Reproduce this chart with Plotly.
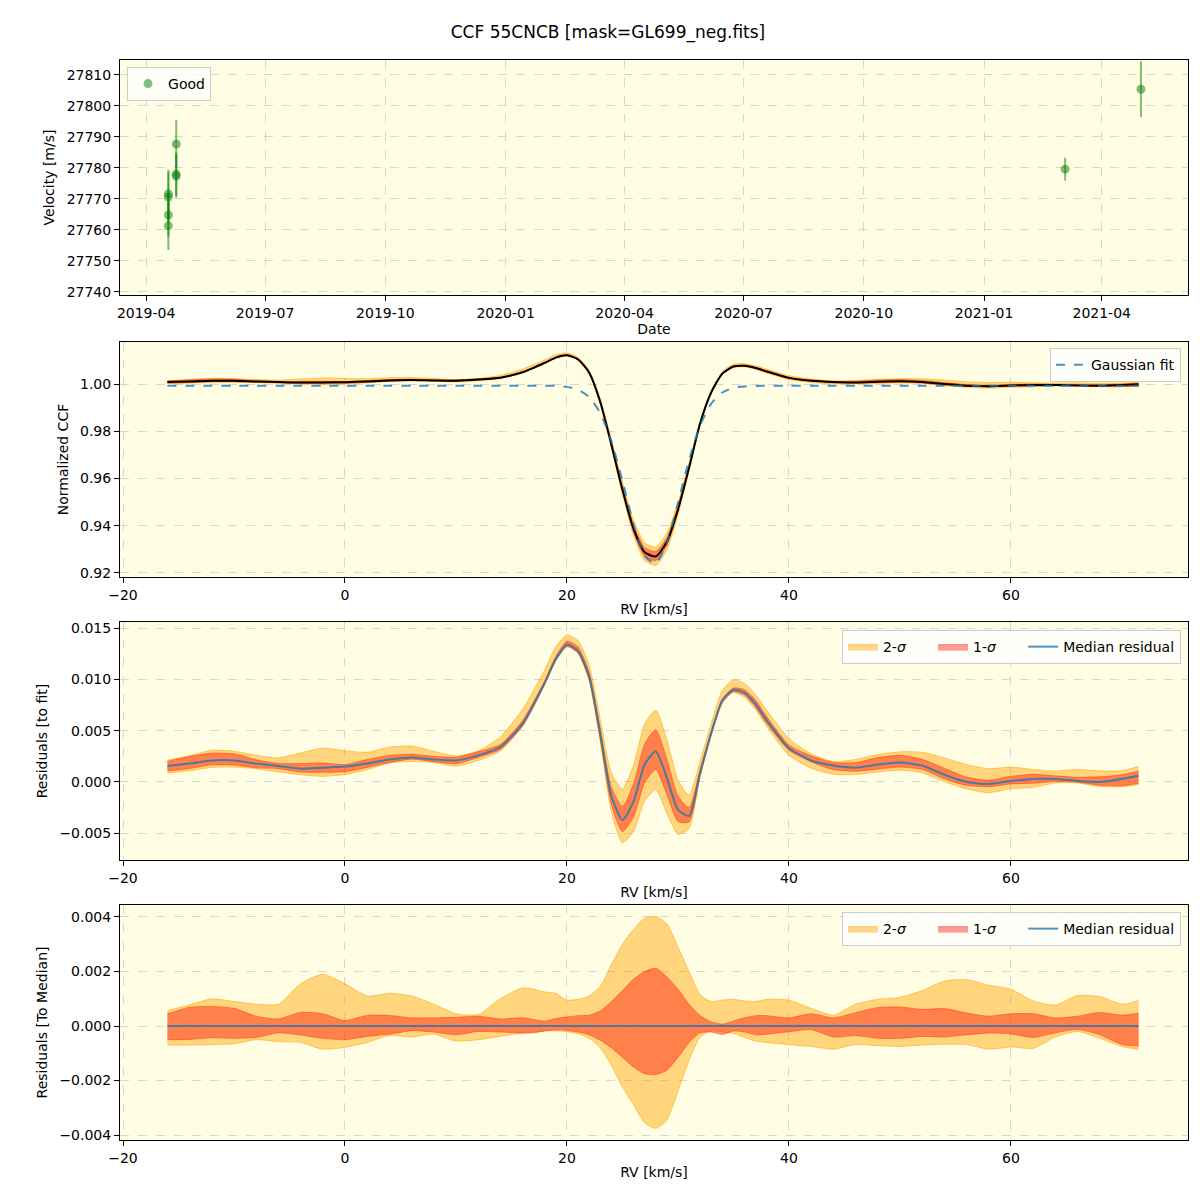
import plotly.graph_objects as go

# top panel: radial velocities ("Good" points)
obs_dates = ["2019-04-18", "2019-04-18", "2019-04-18", "2019-04-18",
             "2019-04-24", "2019-04-24", "2019-04-24",
             "2021-03-04", "2021-05-01"]
obs_rv = [27761.3, 27764.8, 27770.6, 27771.6, 27787.7, 27778.0, 27777.4, 27779.6, 27805.4]
obs_err = [7.8, 7.0, 8.0, 7.8, 7.8, 7.0, 7.0, 3.7, 9.0]

# CCF grid [km/s]
rv = [-16, -14, -12, -10, -8, -6, -4, -2, 0, 2, 4, 6, 8, 10, 12, 14, 16,
      17, 18, 19, 20, 21, 22, 23, 24, 25, 26, 27, 28, 29, 30, 31, 32, 33, 34, 35, 36, 37, 38,
      40, 42, 44, 46, 48, 50, 52, 54, 56, 58, 60, 62, 64, 66, 68, 70, 71.5]

gauss_fit = [0.9993, 0.9993, 0.9993, 0.9993, 0.9993, 0.9993, 0.9993, 0.9993, 0.9993,
             0.9993, 0.9993, 0.9993, 0.9993, 0.9993, 0.9993, 0.9993, 0.9993,
             0.9993, 0.9993, 0.9992, 0.9988, 0.9976, 0.9945, 0.9877, 0.9758, 0.9590,
             0.9406, 0.9271, 0.9240, 0.9328, 0.9496, 0.9679, 0.9825, 0.9917, 0.9964,
             0.9984, 0.9990, 0.9992, 0.9993,
             0.9993, 0.9993, 0.9993, 0.9993, 0.9993, 0.9993, 0.9993, 0.9993, 0.9993,
             0.9993, 0.9993, 0.9993, 0.9993, 0.9993, 0.9993, 0.9993, 0.9993]

median_res = [0.00156, 0.0018, 0.0021, 0.0021, 0.0018, 0.00155, 0.0013, 0.0014, 0.0015,
              0.0018, 0.0022, 0.0024, 0.0022, 0.0021, 0.0026, 0.0034, 0.0057,
              0.0076, 0.0097, 0.0120, 0.0134, 0.0128, 0.0103, 0.0047, -0.0014, -0.0037,
              -0.0019, 0.0017, 0.0030, 0.0004, -0.0027, -0.0033, 0.0009, 0.0048, 0.0080,
              0.0090, 0.0087, 0.0076, 0.0060,
              0.0033, 0.0021, 0.0016, 0.0014, 0.0017, 0.0019, 0.0016, 0.0007, 0.0000,
              -0.0002, 0.0001, 0.0003, 0.0003, 0.0001, 0.0000, 0.0003, 0.0006]

# percentile offsets relative to the median
hi2 = [0.00056, 0.00078, 0.00100, 0.00090, 0.00080, 0.00080, 0.00155, 0.00190, 0.00155,
       0.00110, 0.00120, 0.00110, 0.00080, 0.00045, 0.00042, 0.00100, 0.00140,
       0.00135, 0.00125, 0.00120, 0.00095, 0.00098, 0.00110, 0.00145, 0.00225, 0.00300,
       0.00355, 0.00395, 0.00402, 0.00375, 0.00290, 0.00200, 0.00115, 0.00090, 0.00095,
       0.00098, 0.00092, 0.00090, 0.00098,
       0.00095, 0.00065, 0.00040, 0.00080, 0.00098, 0.00105, 0.00130, 0.00165, 0.00170,
       0.00150, 0.00135, 0.00092, 0.00077, 0.00112, 0.00108, 0.00080, 0.00093]
hi1 = [0.00045, 0.00069, 0.00072, 0.00065, 0.00036, 0.00026, 0.00050, 0.00045, 0.00020,
       0.00039, 0.00039, 0.00030, 0.00030, 0.00032, 0.00036, 0.00026, 0.00030,
       0.00024, 0.00018, 0.00028, 0.00033, 0.00038, 0.00040, 0.00055, 0.00090, 0.00130,
       0.00172, 0.00200, 0.00212, 0.00180, 0.00135, 0.00080, 0.00038, 0.00015, 0.00007,
       0.00018, 0.00030, 0.00038, 0.00038,
       0.00030, 0.00045, 0.00030, 0.00049, 0.00068, 0.00070, 0.00061, 0.00064, 0.00048,
       0.00036, 0.00045, 0.00045, 0.00030, 0.00036, 0.00050, 0.00040, 0.00047]
lo1 = [-0.00050, -0.00049, -0.00043, -0.00045, -0.00042, -0.00025, -0.00033, -0.00045, -0.00050,
       -0.00038, -0.00030, -0.00017, -0.00022, -0.00032, -0.00020, -0.00022, -0.00026,
       -0.00025, -0.00018, -0.00014, -0.00016, -0.00022, -0.00032, -0.00052, -0.00080, -0.00115,
       -0.00150, -0.00175, -0.00178, -0.00162, -0.00115, -0.00060, -0.00025, -0.00022, -0.00031,
       -0.00018, -0.00022, -0.00032, -0.00030,
       -0.00021, -0.00013, -0.00040, -0.00035, -0.00045, -0.00045, -0.00038, -0.00040, -0.00032,
       -0.00026, -0.00029, -0.00042, -0.00025, -0.00012, -0.00032, -0.00068, -0.00073]
lo2 = [-0.00070, -0.00070, -0.00068, -0.00065, -0.00050, -0.00057, -0.00060, -0.00085, -0.00078,
       -0.00060, -0.00035, -0.00040, -0.00030, -0.00055, -0.00050, -0.00038, -0.00025,
       -0.00021, -0.00018, -0.00018, -0.00020, -0.00028, -0.00045, -0.00080, -0.00145, -0.00223,
       -0.00290, -0.00355, -0.00375, -0.00345, -0.00240, -0.00125, -0.00040, -0.00018, -0.00022,
       -0.00027, -0.00042, -0.00055, -0.00060,
       -0.00068, -0.00075, -0.00085, -0.00068, -0.00072, -0.00075, -0.00070, -0.00067, -0.00068,
       -0.00085, -0.00077, -0.00082, -0.00040, -0.00020, -0.00045, -0.00075, -0.00086]

ccf_med = [f + m for f, m in zip(gauss_fit, median_res)]
zero = [m - m for m in median_res]

ORANGE_FILL = "rgba(255,165,0,0.45)"
ORANGE_LINE = "rgba(255,165,0,0.55)"
RED_FILL = "rgba(255,0,0,0.4)"
RED_LINE = "rgba(255,40,0,0.45)"
BLUE = "rgba(31,119,180,0.8)"
PAD = "&nbsp;" * 5

fig = go.Figure()

fig.add_trace(go.Scatter(
    x=obs_dates, y=obs_rv, mode="markers", name="Good", legend="legend",
    marker=dict(color="rgba(0,128,0,0.5)", size=9),
    error_y=dict(type="data", array=obs_err, color="rgba(0,128,0,0.5)", thickness=2, width=0),
    xaxis="x", yaxis="y"))


def add_bands(base, xa, ya, leg, show):
    for lo, hi, fc, lc, nm in [(lo2, hi2, ORANGE_FILL, ORANGE_LINE, "2-<i>σ</i>" + PAD),
                               (lo1, hi1, RED_FILL, RED_LINE, "1-<i>σ</i>" + PAD)]:
        fig.add_trace(go.Scatter(
            x=rv, y=[b + v for b, v in zip(base, lo)], mode="lines",
            line=dict(color=lc, width=1, shape="spline", smoothing=0.6),
            showlegend=False, hoverinfo="skip", xaxis=xa, yaxis=ya))
        fig.add_trace(go.Scatter(
            x=rv, y=[b + v for b, v in zip(base, hi)], mode="lines", name=nm,
            line=dict(color=lc, width=1, shape="spline", smoothing=0.6),
            fill="tonexty", fillcolor=fc, showlegend=show, legend=leg,
            xaxis=xa, yaxis=ya))


# panel 2: CCF with bands
add_bands(ccf_med, "x2", "y2", "legend2", False)
fig.add_trace(go.Scatter(x=rv, y=ccf_med, mode="lines", showlegend=False,
                         line=dict(color="black", width=2, shape="spline", smoothing=0.6),
                         xaxis="x2", yaxis="y2"))
fig.add_trace(go.Scatter(x=rv, y=gauss_fit, mode="lines", name="Gaussian fit", legend="legend2",
                         line=dict(color=BLUE, width=2, dash="dash", shape="spline", smoothing=0.6),
                         xaxis="x2", yaxis="y2"))

# panel 3: residuals to fit
add_bands(median_res, "x3", "y3", "legend3", True)
fig.add_trace(go.Scatter(x=rv, y=median_res, mode="lines", name="Median residual", legend="legend3",
                         line=dict(color=BLUE, width=2, shape="spline", smoothing=0.6),
                         xaxis="x3", yaxis="y3"))

# panel 4: residuals to median
add_bands(zero, "x4", "y4", "legend4", True)
fig.add_trace(go.Scatter(x=rv, y=zero, mode="lines", name="Median residual", legend="legend4",
                         line=dict(color=BLUE, width=2),
                         xaxis="x4", yaxis="y4"))

axis_style = dict(showline=True, linecolor="black", linewidth=1, mirror=True,
                  ticks="outside", ticklen=5, tickcolor="black",
                  showgrid=True, gridcolor="#d6d6d6", griddash="dash", gridwidth=1,
                  zeroline=False, automargin=False,
                  tickfont=dict(size=14, color="black"),
                  title_font=dict(size=14, color="black"))

rv_range = [-20.27, 75.95]
legend_style = dict(bgcolor="rgba(255,255,255,0.8)", bordercolor="#cccccc", borderwidth=1,
                    font=dict(size=14, color="black"), traceorder="normal")

fig.update_layout(
    width=1200, height=1200,
    margin=dict(l=112, r=20, t=52, b=68, autoexpand=False),
    paper_bgcolor="white", plot_bgcolor="#fffde3",
    font=dict(family="DejaVu Sans", color="black"),
    title=dict(text="CCF 55CNCB [mask=GL699_neg.fits]", x=0.5, xanchor="center",
               y=0.98, yanchor="middle", font=dict(size=17, color="black")),
    xaxis=dict(axis_style, domain=[0, 1], anchor="y", type="date",
               range=["2019-03-12", "2021-06-06"], dtick="M3", tick0="2019-01-01",
               tickformat="%Y-%m", title=dict(text="Date", standoff=2)),
    yaxis=dict(axis_style, domain=[0.7824, 1], anchor="x", range=[27739, 27814.8],
               dtick=10, tickformat="d", title=dict(text="Velocity [m/s]", standoff=8)),
    xaxis2=dict(axis_style, domain=[0, 1], anchor="y2", range=rv_range, dtick=20,
                title=dict(text="RV [km/s]", standoff=2)),
    yaxis2=dict(axis_style, domain=[0.5213, 0.7389], anchor="x2", range=[0.9183, 1.0178],
                dtick=0.02, tickformat=".2f", title=dict(text="Normalized CCF", standoff=8)),
    xaxis3=dict(axis_style, domain=[0, 1], anchor="y3", range=rv_range, dtick=20,
                title=dict(text="RV [km/s]", standoff=2)),
    yaxis3=dict(axis_style, domain=[0.2593, 0.4796], anchor="x3", range=[-0.00761, 0.01561],
                dtick=0.005, tickformat=".3f", title=dict(text="Residuals [to fit]", standoff=8)),
    xaxis4=dict(axis_style, domain=[0, 1], anchor="y4", range=rv_range, dtick=20,
                title=dict(text="RV [km/s]", standoff=2)),
    yaxis4=dict(axis_style, domain=[0, 0.2176], anchor="x4", range=[-0.00418, 0.00444],
                dtick=0.002, tickformat=".3f", title=dict(text="Residuals [To Median]", standoff=8)),
    legend=dict(legend_style, x=0.0066, y=0.9935, xanchor="left", yanchor="top"),
    legend2=dict(legend_style, x=0.9934, y=0.7333, xanchor="right", yanchor="top"),
    legend3=dict(legend_style, x=0.9934, y=0.4722, xanchor="right", yanchor="top",
                 orientation="h"),
    legend4=dict(legend_style, x=0.9934, y=0.2111, xanchor="right", yanchor="top",
                 orientation="h"),
)

fig.write_html("out.html")
